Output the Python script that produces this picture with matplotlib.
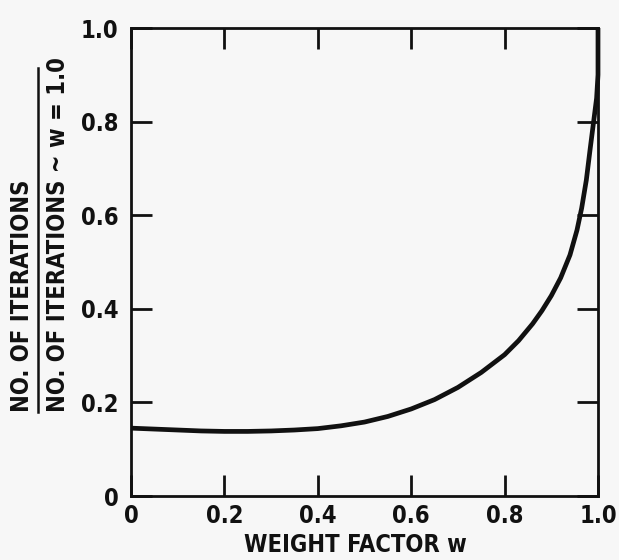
import matplotlib
matplotlib.use('Agg')
import matplotlib.pyplot as plt
from matplotlib.lines import Line2D

# curve
weight = [0.0, 0.05, 0.1, 0.15, 0.2, 0.25, 0.3, 0.35, 0.4, 0.45, 0.5, 0.55,
          0.6, 0.65, 0.7, 0.75, 0.8, 0.83, 0.86, 0.88, 0.9, 0.92, 0.94, 0.955,
          0.965, 0.975, 0.983, 0.99, 0.997, 1.0, 1.0]
ratio = [0.145, 0.143, 0.141, 0.139, 0.138, 0.138, 0.139, 0.141, 0.144, 0.150,
         0.158, 0.170, 0.186, 0.206, 0.232, 0.264, 0.302, 0.332, 0.368, 0.396,
         0.428, 0.466, 0.515, 0.568, 0.615, 0.675, 0.740, 0.795, 0.850, 0.900, 1.0]

ticks = [0.0, 0.2, 0.4, 0.6, 0.8, 1.0]
tick_labels = ['0', '0.2', '0.4', '0.6', '0.8', '1.0']

font = {'family': 'DejaVu Sans', 'stretch': 'condensed', 'weight': 'bold', 'size': 17}
ink = '#111111'
paper = '#f7f7f7'

fig = plt.figure(figsize=(6.19, 5.60), dpi=100, facecolor=paper)
ax = fig.add_axes([131 / 619, 1 - 496 / 560, 467 / 619, 468 / 560])
ax.set_facecolor(paper)

ax.plot(weight, ratio, color=ink, lw=3.4, solid_joinstyle='round', solid_capstyle='butt', clip_on=False)

ax.set_xlim(0, 1)
ax.set_ylim(0, 1)
ax.set_xticks(ticks)
ax.set_yticks(ticks)
ax.set_xticklabels(tick_labels, fontdict=font, color=ink)
ax.set_yticklabels(tick_labels, fontdict=font, color=ink)
ax.tick_params(direction='in', length=15, width=2, color=ink, top=True, right=True,
               labeltop=False, labelright=False)
ax.tick_params(axis='x', pad=6)
ax.tick_params(axis='y', pad=9)
for s in ax.spines.values():
    s.set_linewidth(2)
    s.set_color(ink)

fig.text(355 / 619, 1 - 557 / 560, 'WEIGHT FACTOR w', ha='center', va='bottom', color=ink, **font)

# y label as a stacked fraction
fig.text(22 / 619, 1 - 412 / 560, 'NO. OF ITERATIONS', rotation=90, ha='center', va='bottom', color=ink, **font)
fig.text(58 / 619, 1 - 412 / 560, 'NO. OF ITERATIONS ~ w = 1.0', rotation=90, ha='center', va='bottom', color=ink, **font)
fig.add_artist(Line2D([38 / 619, 38 / 619], [1 - 412 / 560, 1 - 68 / 560], color=ink, lw=1.8))

fig.savefig('out.png', dpi=100, facecolor=paper)
